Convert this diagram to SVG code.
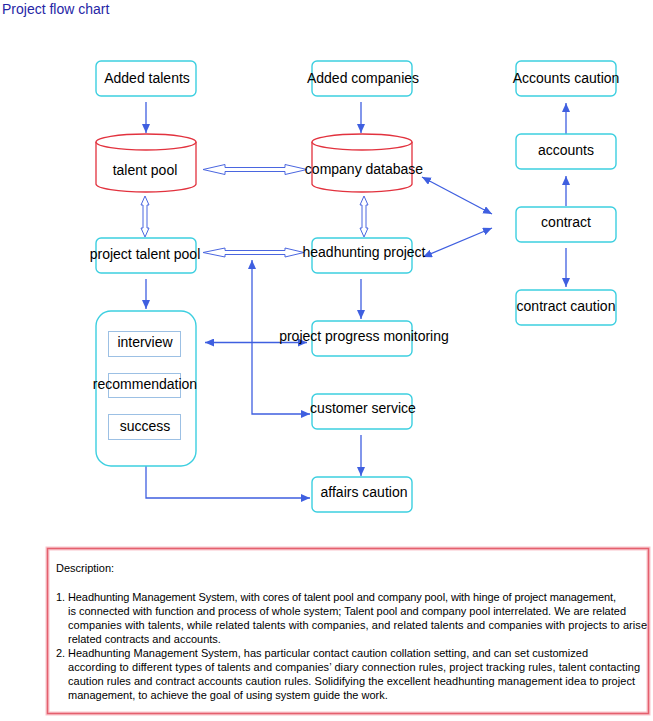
<svg xmlns="http://www.w3.org/2000/svg" width="653" height="721" viewBox="0 0 653 721">
<style>
  text { font-family: "Liberation Sans", Arial, sans-serif; fill: #000; }
  .lbl { font-size: 14px; text-anchor: middle; }
  .box { fill: #fff; stroke: #3ccfe0; stroke-width: 1.4; }
  .inner { fill: #fff; stroke: #9cc0e4; stroke-width: 1; }
  .cyl { fill: #fff; stroke: #e2323e; stroke-width: 1.3; }
  .con { fill: none; stroke: #3f5fe0; stroke-width: 1.3; }
  .hollow { fill: #fff; stroke: #4a66e0; stroke-width: 1; }
  .desc { font-size: 11px; }
  .title { font-size: 14px; fill: #2626a6; }
</style>
<defs>
  <marker id="ah" markerUnits="userSpaceOnUse" markerWidth="9" markerHeight="8" refX="9" refY="4" orient="auto-start-reverse">
    <path d="M0,0 L9,4 L0,8 Z" fill="#3f5fe0"/>
  </marker>
</defs>
<rect width="653" height="721" fill="#fff"/>
<text class="title" x="2" y="14">Project flow chart</text>

<g id="connectors">
  <line class="con" x1="146" y1="102" x2="146" y2="133" marker-end="url(#ah)"/>
  <line class="con" x1="361" y1="102" x2="361" y2="133" marker-end="url(#ah)"/>
  <path class="hollow" d="M203,169.5 L225,164.5 L225,167.5 L285,167.5 L285,164.5 L307,169.5 L285,174.5 L285,171.5 L225,171.5 L225,174.5 Z"/>
  <path class="hollow" d="M203,252.5 L225,248 L225,250.5 L285,250.5 L285,248 L304,252.5 L285,257 L285,254.5 L225,254.5 L225,257 Z"/>
  <path class="hollow" d="M145,196 L149,205 L147,205 L147,228 L149,228 L145,237 L141,228 L143,228 L143,205 L141,205 Z"/>
  <path class="hollow" d="M364,196 L368,205 L366,205 L366,228 L368,228 L364,237 L360,228 L362,228 L362,205 L360,205 Z"/>
  <line class="con" x1="146" y1="279" x2="146" y2="309" marker-end="url(#ah)"/>
  <line class="con" x1="361" y1="279" x2="361" y2="319" marker-end="url(#ah)"/>
  <line class="con" x1="205" y1="342.5" x2="307" y2="342.5" marker-start="url(#ah)" marker-end="url(#ah)"/>
  <polyline class="con" points="310,414 252,414 252,260" marker-start="url(#ah)" marker-end="url(#ah)"/>
  <line class="con" x1="361" y1="435" x2="361" y2="476" marker-end="url(#ah)"/>
  <polyline class="con" points="146,466 146,498 310,498" marker-end="url(#ah)"/>
  <line class="con" x1="422" y1="177" x2="492" y2="214" marker-start="url(#ah)" marker-end="url(#ah)"/>
  <line class="con" x1="423" y1="257" x2="492" y2="228" marker-start="url(#ah)" marker-end="url(#ah)"/>
  <line class="con" x1="566" y1="206" x2="566" y2="176" marker-end="url(#ah)"/>
  <line class="con" x1="566" y1="134" x2="566" y2="103" marker-end="url(#ah)"/>
  <line class="con" x1="566" y1="248" x2="566" y2="287" marker-end="url(#ah)"/>
</g>

<g id="added-talents">
  <rect class="box" x="96" y="61" width="100" height="35" rx="5"/>
  <text class="lbl" x="147" y="83">Added talents</text>
</g>
<g id="added-companies">
  <rect class="box" x="312" y="61" width="100" height="35" rx="5"/>
  <text class="lbl" x="363" y="83">Added companies</text>
</g>
<g id="accounts-caution">
  <rect class="box" x="516" y="61" width="100" height="35" rx="5"/>
  <text class="lbl" x="566" y="83">Accounts caution</text>
</g>
<g id="talent-pool">
  <path class="cyl" d="M96,142 L96,184 A50,8 0 0 0 196,184 L196,142"/>
  <ellipse class="cyl" cx="146" cy="142" rx="50" ry="8"/>
  <text class="lbl" x="145" y="175">talent pool</text>
</g>
<g id="company-database">
  <path class="cyl" d="M312,142 L312,184 A50,8 0 0 0 412,184 L412,142"/>
  <ellipse class="cyl" cx="362" cy="142" rx="50" ry="8"/>
  <text class="lbl" x="364" y="174">company database</text>
</g>
<g id="accounts">
  <rect class="box" x="516" y="134" width="100" height="35" rx="5"/>
  <text class="lbl" x="566" y="155">accounts</text>
</g>
<g id="contract">
  <rect class="box" x="516" y="207" width="100" height="35" rx="5"/>
  <text class="lbl" x="566" y="227">contract</text>
</g>
<g id="contract-caution">
  <rect class="box" x="516" y="290" width="100" height="35" rx="5"/>
  <text class="lbl" x="566" y="311">contract caution</text>
</g>
<g id="project-talent-pool">
  <rect class="box" x="96" y="238" width="100" height="35" rx="5"/>
  <text class="lbl" x="145" y="259">project talent pool</text>
</g>
<g id="headhunting-project">
  <rect class="box" x="312" y="238" width="100" height="35" rx="5"/>
  <text class="lbl" x="364" y="257">headhunting project</text>
</g>
<g id="process-box">
  <rect class="box" x="96" y="311" width="100" height="155" rx="15"/>
  <g id="interview">
    <rect class="inner" x="108.5" y="331.5" width="72" height="25"/>
    <text class="lbl" x="145" y="347">interview</text>
  </g>
  <g id="recommendation">
    <rect class="inner" x="108.5" y="373.5" width="72" height="24"/>
    <text class="lbl" x="145" y="389">recommendation</text>
  </g>
  <g id="success">
    <rect class="inner" x="108.5" y="414.5" width="72" height="25"/>
    <text class="lbl" x="145" y="431">success</text>
  </g>
</g>
<g id="project-progress-monitoring">
  <rect class="box" x="312" y="321" width="100" height="35" rx="5"/>
  <text class="lbl" x="364" y="341">project progress monitoring</text>
</g>
<g id="customer-service">
  <rect class="box" x="312" y="394" width="100" height="35" rx="5"/>
  <text class="lbl" x="363" y="413">customer service</text>
</g>
<g id="affairs-caution">
  <rect class="box" x="312" y="477" width="100" height="35" rx="5"/>
  <text class="lbl" x="364" y="497">affairs caution</text>
</g>

<g id="description">
  <rect x="47.5" y="548.5" width="601" height="165" fill="#fff" stroke="#f9c4cb" stroke-width="4"/>
  <rect x="47.5" y="548.5" width="601" height="165" fill="none" stroke="#e4606e" stroke-width="1.5"/>
  <text class="desc" x="56" y="572">Description:</text>
  <text class="desc" x="56" y="601">1.</text>
  <text class="desc" x="68" y="601" textLength="548" lengthAdjust="spacing">Headhunting Management System, with cores of talent pool and company pool, with hinge of project management,</text>
  <text class="desc" x="68" y="615" textLength="558" lengthAdjust="spacing">is connected with function and process of whole system; Talent pool and company pool interrelated. We are related</text>
  <text class="desc" x="68" y="629" textLength="579" lengthAdjust="spacing">companies with talents, while related talents with companies, and related talents and companies with projects to arise</text>
  <text class="desc" x="68" y="643">related contracts and accounts.</text>
  <text class="desc" x="56" y="657">2.</text>
  <text class="desc" x="68" y="657" textLength="520" lengthAdjust="spacing">Headhunting Management System, has particular contact caution collation setting, and can set customized</text>
  <text class="desc" x="68" y="671" textLength="572" lengthAdjust="spacing">according to different types of talents and companies’ diary connection rules, project tracking rules, talent contacting</text>
  <text class="desc" x="68" y="685" textLength="567" lengthAdjust="spacing">caution rules and contract accounts caution rules. Solidifying the excellent headhunting management idea to project</text>
  <text class="desc" x="68" y="699">management, to achieve the goal of using system guide the work.</text>
</g>
</svg>
